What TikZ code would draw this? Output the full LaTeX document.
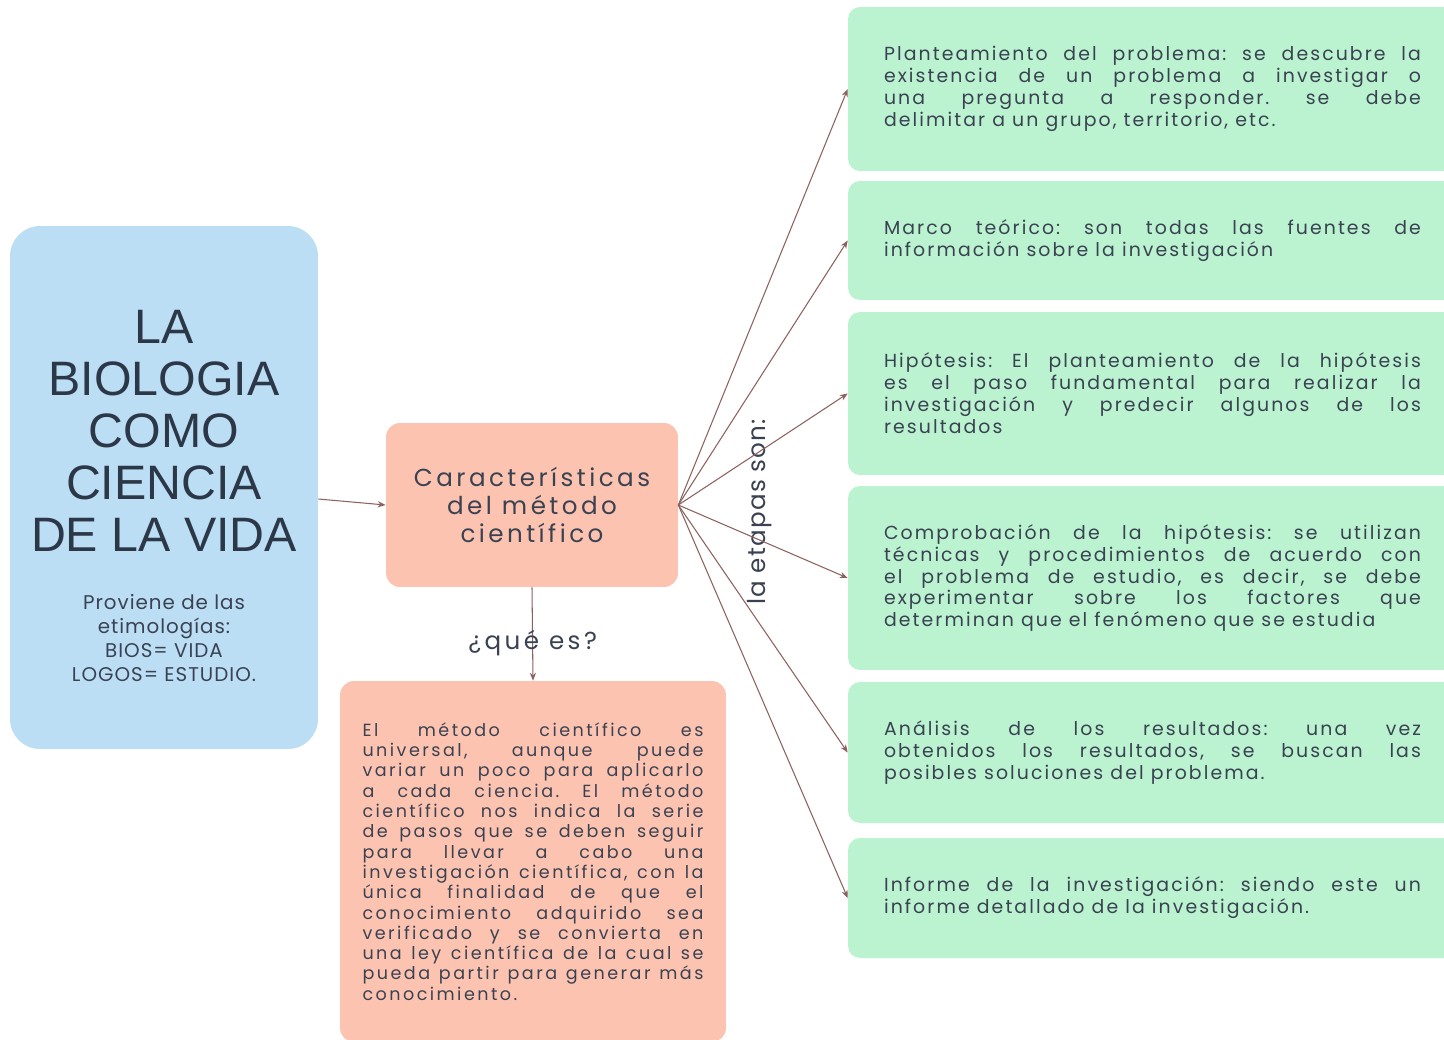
\documentclass[tikz,border=0pt]{standalone}
\usepackage{fontspec}
\usetikzlibrary{arrows.meta}
\usetikzlibrary{positioning}
\newfontfamily\headfont{Liberation Sans}
\newfontfamily\quick[LetterSpace=14]{Poppins}
\newfontfamily\quickstage[LetterSpace=11]{Poppins}
\newfontfamily\quicktight[LetterSpace=5]{Poppins}
\definecolor{ink}{RGB}{58,66,82}
\definecolor{deepink}{RGB}{44,56,72}
\definecolor{sky}{RGB}{187,222,245}
\definecolor{peach}{RGB}{252,195,176}
\definecolor{mint}{RGB}{187,243,209}
\definecolor{wire}{RGB}{140,98,94}
\frenchspacing
\hyphenpenalty=10000
\exhyphenpenalty=10000

\begin{document}
\begin{tikzpicture}[
    x=0.02cm, y=-0.02cm,
    every node/.style={text=ink},
    topic/.style={
        fill=sky, rounded corners=0.6cm,
        minimum width=6.16cm, minimum height=10.46cm
    },
    headline/.style={
        align=center, text=deepink,
        font=\headfont\fontsize{27.5}{29.6}\selectfont
    },
    etym/.style={
        align=center, font=\quicktight\fontsize{11.3}{13.66}\selectfont
    },
    hub/.style={
        fill=peach, rounded corners=0.28cm,
        minimum width=5.84cm, minimum height=3.28cm,
        align=center, font=\quick\fontsize{14}{16}\selectfont
    },
    note/.style={
        fill=peach, rounded corners=0.28cm,
        text width=6.82cm, inner xsep=0.45cm, minimum height=7.22cm,
        align=justify, font=\quick\fontsize{10}{11.55}\selectfont
    },
    stage/.style={
        fill=mint, rounded corners=0.24cm,
        text width=10.74cm, inner xsep=0.72cm,
        align=justify, font=\quickstage\fontsize{10.75}{12.5}\selectfont
    },
    link/.style={
        draw=wire, line width=0.6pt,
        -{Stealth[length=4.5pt,width=3.5pt]}
    },
    l/.style={
        font=\quick\fontsize{14}{16}\selectfont
    },
    lside/.style={
        rotate=90, font=\quicktight\fontsize{14}{16}\selectfont
    }
]
    \useasboundingbox (0,0) rectangle (1444,1039);
    \clip (0,0) rectangle (1444,1039);
    \fill[white] (0,0) rectangle (1444,1039);

    % left block
    \node[topic] (bio) at (164,487.5) {};
    \node[headline] (title) at (164,431) {LA\\BIOLOGIA\\COMO\\CIENCIA\\DE LA VIDA};
    \node[etym] (roots) at (164,638) {Proviene de las\\etimologías:\\BIOS= VIDA\\LOGOS= ESTUDIO.};

    % middle
    \node[hub] (hub) at (532,505) {Características\\del método\\científico};
    \node[note] (note) at (533,861.5) {El método científico es\linebreak
        universal, aunque puede\linebreak
        variar un poco para aplicarlo\linebreak
        a cada ciencia. El método\linebreak
        científico nos indica la serie\linebreak
        de pasos que se deben seguir\linebreak
        para llevar a cabo una\linebreak
        investigación científica, con la\linebreak
        única finalidad de que el\linebreak
        conocimiento adquirido sea\linebreak
        verificado y se convierta en\linebreak
        una ley científica de la cual se\linebreak
        pueda partir para generar más\linebreak
        conocimiento.};
    \node[lside] (stages) at (760,512) {la etapas son:};

    % right column
    \node[stage, minimum height=3.28cm] (problem) at (1152.5,89) {Planteamiento del problema: se descubre la\linebreak
        existencia de un problema a investigar o\linebreak
        una pregunta a responder. se debe\linebreak
        delimitar a un grupo, territorio, etc.};
    \node[stage, minimum height=2.38cm] (theory) at (1152.5,240.5) {Marco teórico: son todas las fuentes de\linebreak
        información sobre la investigación};
    \node[stage, minimum height=3.26cm] (hypo) at (1152.5,393.5) {Hipótesis: El planteamiento de la hipótesis\linebreak
        es el paso fundamental para realizar la\linebreak
        investigación y predecir algunos de los\linebreak
        resultados};
    \node[stage, minimum height=3.68cm] (test) at (1152.5,578) {Comprobación de la hipótesis: se utilizan\linebreak
        técnicas y procedimientos de acuerdo con\linebreak
        el problema de estudio, es decir, se debe\linebreak
        experimentar sobre los factores que\linebreak
        determinan que el fenómeno que se estudia};
    \node[stage, minimum height=2.82cm] (analysis) at (1152.5,752.5) {Análisis de los resultados: una vez\linebreak
        obtenidos los resultados, se buscan las\linebreak
        posibles soluciones del problema.};
    \node[stage, minimum height=2.4cm] (report) at (1152.5,898) {Informe de la investigación: siendo este un\linebreak
        informe detallado de la investigación.};

    \draw[link] ([yshift=-0.23cm]bio.east) -- (hub.west);

    \draw (hub.south)
        edge [link] node [l,pos=0.6] {¿qué es?}
        (note.north);

    \draw (hub.east)
        edge [link] (problem.west)
        edge [link] (theory.west)
        edge [link] (hypo.west)
        edge [link] (test.west)
        edge [link] (analysis.west)
        edge [link] (report.west);

\end{tikzpicture}
\end{document}
